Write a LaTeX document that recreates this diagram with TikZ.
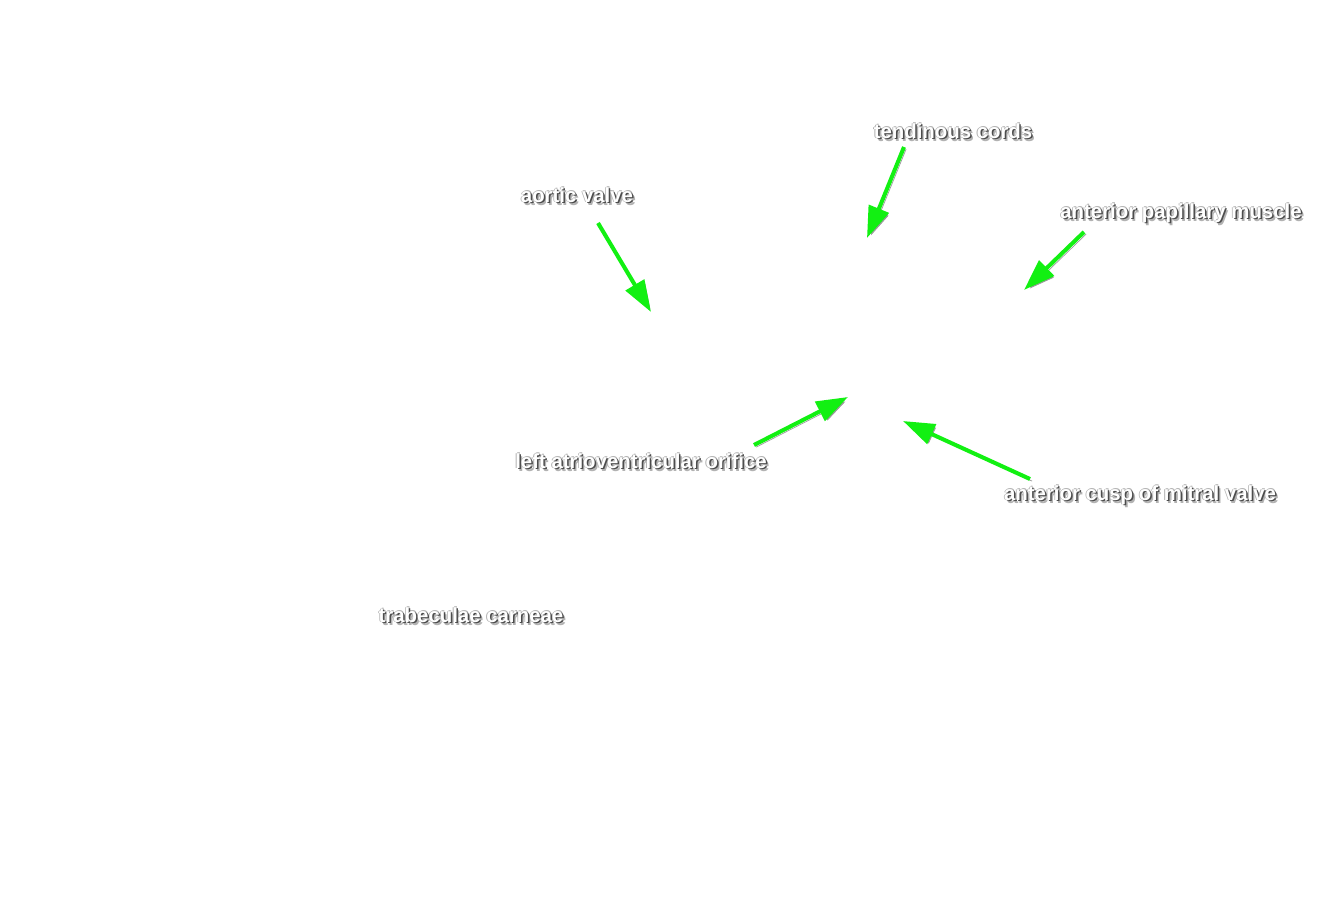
\documentclass[tikz,border=0pt]{standalone}
\usepackage{fontspec}
\setmainfont{Liberation Sans}
\usetikzlibrary{arrows.meta}
\definecolor{pointgreen}{RGB}{18,240,18}
\tikzset{
  lbl/.style={text=white, font=\fontsize{11.6}{13}\selectfont\bfseries, inner sep=0pt},
  lblshadow/.style={lbl, text=black!70},
  lblblur/.style={lbl, text=black!30},
  pointer/.style={draw=pointgreen, line width=2.3pt,
                  -{Triangle[length=18pt,width=12pt]},
                  preaction={draw=black!40, transform canvas={shift={(1.2pt,-1.2pt)}}}},
}
% label with a soft drop shadow
\newcommand{\shadowlabel}[3]{%
  \node[lblblur] at ([shift={(2.8,2.8)}]#2) {#3};
  \node[lblblur] at ([shift={(-0.8,0.6)}]#2) {#3};
  \node[lblblur] at ([shift={(0.6,-0.8)}]#2) {#3};
  \node[lblshadow] at ([shift={(1.5,1.5)}]#2) {#3};
  \node[lbl] (#1) at (#2) {#3};
}

\begin{document}
\begin{tikzpicture}[x=0.02cm, y=-0.02cm]
  \useasboundingbox (0,0) rectangle (1344,900);

  % labels
  \shadowlabel{aortic}{577,195}{aortic valve}
  \shadowlabel{cords}{953,131}{tendinous cords}
  \shadowlabel{papillary}{1181,213}{anterior papillary muscle}
  \shadowlabel{orifice}{641,461}{left atrioventricular orifice}
  \shadowlabel{cusp}{1140,495}{anterior cusp of mitral valve}
  \shadowlabel{trabeculae}{471,615}{trabeculae carneae}

  % arrow ends
  \coordinate (aortic-t) at (598,223);
  \coordinate (aortic-h) at (651,312);
  \coordinate (cords-t) at (904,147);
  \coordinate (cords-h) at (867,238);
  \coordinate (papillary-t) at (1084,232);
  \coordinate (papillary-h) at (1024,290);
  \coordinate (orifice-t) at (754,445);
  \coordinate (orifice-h) at (848,397);
  \coordinate (cusp-t) at (1030,479);
  \coordinate (cusp-h) at (903,421);

  % pointers
  \draw[pointer] (aortic-t) -- (aortic-h);
  \draw[pointer] (cords-t) -- (cords-h);
  \draw[pointer] (papillary-t) -- (papillary-h);
  \draw[pointer] (orifice-t) -- (orifice-h);
  \draw[pointer] (cusp-t) -- (cusp-h);
\end{tikzpicture}
\end{document}
